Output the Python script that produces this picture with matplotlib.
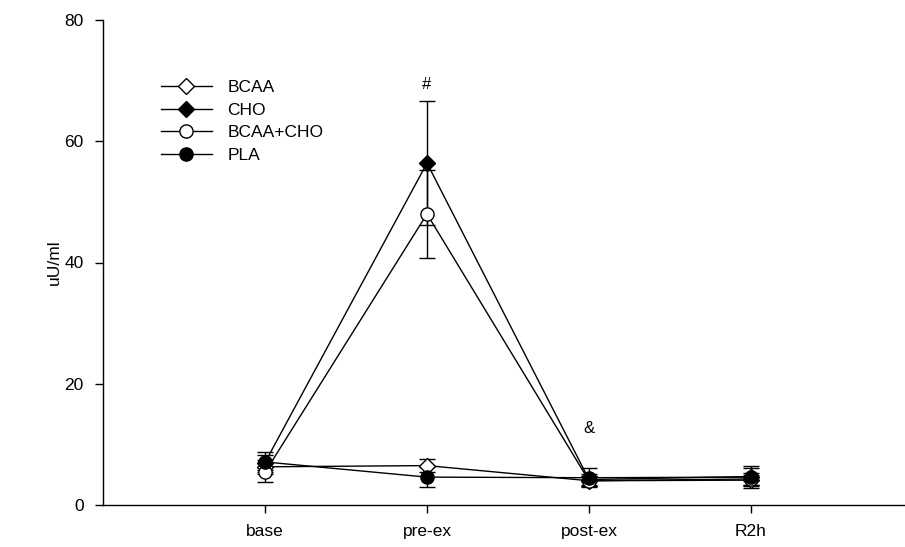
import numpy as np
import matplotlib
matplotlib.use('Agg')
import matplotlib.pyplot as plt
from matplotlib.lines import Line2D

plt.rcParams.update({
    "font.family": ["Liberation Sans", "DejaVu Sans"],
    "font.size": 12.5,
})

# ── data ───────────────────────────────────────────────────────────────
timepoints = ["base", "pre-ex", "post-ex", "R2h"]
bcaa = [6.3, 6.5, 4.0, 4.1]
bcaa_se = [1.2, 1.1, 0.8, 0.9]
cho = [7.0, 56.4, 4.2, 4.7]
cho_se = [1.3, 10.2, 0.9, 1.4]
bcaa_cho = [5.4, 48.0, 4.0, 4.3]
bcaa_cho_se = [1.6, 7.2, 0.8, 1.0]
pla = [7.1, 4.6, 4.5, 4.6]
pla_se = [1.6, 1.6, 1.6, 1.8]

marks = [("#", 1, 69.3), ("&", 2, 12.7)]

x = np.arange(1, len(timepoints) + 1)

fig = plt.figure(figsize=(9.05, 5.47), dpi=100)
ax = fig.add_axes([103 / 905, 42 / 547, 810 / 905, 485 / 547])

series = [
    ("BCAA", bcaa, bcaa_se, "D", "white"),
    ("CHO", cho, cho_se, "D", "black"),
    ("BCAA+CHO", bcaa_cho, bcaa_cho_se, "o", "white"),
    ("PLA", pla, pla_se, "o", "black"),
]
handles = []
for label, vals, se, mk, fc in series:
    ms = 8.5 if mk == "D" else 9.5
    ax.errorbar(x, vals, yerr=se, color="black", lw=1.0, elinewidth=1.0,
                capsize=6, capthick=1.0, marker=mk, mfc=fc, mec="black",
                mew=1.0, ms=ms)
    handles.append(Line2D([], [], color="black", lw=1.0, marker=mk, mfc=fc,
                          mec="black", mew=1.0, ms=ms, label=label))

for txt, i, yv in marks:
    ax.text(x[i], yv, txt, ha="center", va="center", fontsize=12)

ax.set_xlim(0, 5)
ax.set_ylim(0, 80)
ax.set_xticks(x)
ax.set_xticklabels(timepoints)
ax.set_yticks([0, 20, 40, 60, 80])
ax.set_ylabel("uU/ml", labelpad=2)
ax.tick_params(direction="out", length=6, width=1.0, pad=8)
ax.spines["top"].set_visible(False)
ax.spines["right"].set_visible(False)
for s in ("left", "bottom"):
    ax.spines[s].set_linewidth(1.0)

ax.legend(handles=handles, loc="upper left", bbox_to_anchor=(0.072, 0.876),
          frameon=False, handlelength=2.9, handletextpad=0.9,
          labelspacing=0.42, borderpad=0, borderaxespad=0)

fig.savefig("out.png", dpi=100)
